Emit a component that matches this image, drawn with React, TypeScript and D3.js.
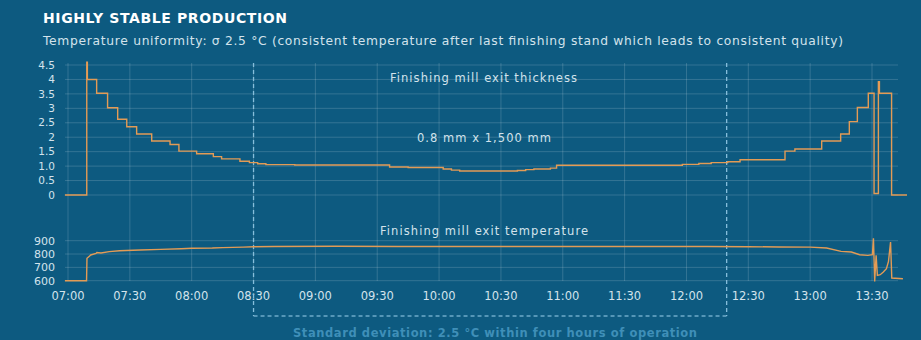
import React from "react";
import * as d3 from "d3";

// minutes after 07:00
const xTickMinutes = [0, 30, 60, 90, 120, 150, 180, 210, 240, 270, 300, 330, 360, 390];
const xTickLabels = ["07:00", "07:30", "08:00", "08:30", "09:00", "09:30", "10:00", "10:30", "11:00", "11:30", "12:00", "12:30", "13:00", "13:30"];
const thickTicks = [0, 0.5, 1, 1.5, 2, 2.5, 3, 3.5, 4, 4.5];
const thickTickLabels = ["0", "0.5", "1.0", "1.5", "2", "2.5", "3", "3.5", "4", "4.5"];
const tempTicks = [600, 700, 800, 900];
const tempTickLabels = ["600", "700", "800", "900"];

// thickness (mm), step-after
const thickMinutes = [-1.5, 9.1, 9.4, 13.9, 19.2, 24.1, 28.5, 33.3, 40.6, 49.5, 53.8, 62.4, 70.5, 74.5, 83.4, 88, 92, 96, 110, 156, 165, 182, 186, 190, 218, 222, 226, 234, 237, 298, 306, 312, 320, 326, 347.8, 352.6, 365.6, 374.8, 379, 382.9, 388.2, 391, 393.1, 393.6, 399.5, 407];
const thickValues = [0, 4.6, 4.0, 3.52, 3.02, 2.62, 2.36, 2.11, 1.87, 1.75, 1.52, 1.43, 1.33, 1.25, 1.17, 1.12, 1.08, 1.05, 1.04, 0.97, 0.95, 0.9, 0.86, 0.83, 0.85, 0.88, 0.9, 0.93, 1.03, 1.06, 1.09, 1.12, 1.15, 1.22, 1.52, 1.59, 1.87, 2.11, 2.54, 3.03, 3.52, 0.05, 3.92, 3.52, 0, 0];

// temperature (°C)
const tempMinutes = [-1.5, 9.0, 9.2, 10.5, 11, 13.6, 14, 16, 20, 25, 35, 45, 55, 60, 70, 75, 85, 90, 100, 130, 160, 200, 240, 280, 310, 330, 345, 360, 368, 375, 380, 384, 388, 390.2, 390.7, 391.3, 392, 392.6, 394, 395.5, 397, 398, 399, 399.6, 405];
const tempValues = [600, 600, 768, 785, 793, 805, 812, 808, 818, 825, 830, 835, 840, 843, 845, 848, 852, 855, 857, 858, 857, 856, 857, 857, 856, 855, 853, 852, 845, 820, 815, 795, 790, 795, 918, 595, 790, 640, 645, 665, 690, 745, 890, 620, 615];

const stdStart = 90;
const stdEnd = 319.5;

const FONT = "'DejaVu Sans', sans-serif";
const BG = "#0d5a80";
const GRID = "rgba(255,255,255,0.16)";
const LABEL = "#d3e3ec";
const LINE = "#e39b55";
const DASH = "#86bedb";

export default function App() {
  const x = d3.scaleLinear().domain([0, 390]).range([68, 872]);
  const yT = d3.scaleLinear().domain([0, 4.5]).range([195, 65]);
  const yP = d3.scaleLinear().domain([600, 900]).range([280.7, 240.7]);
  const left = 65;
  const right = 898;

  const thickData = thickMinutes.map((m, i) => [m, thickValues[i]] as [number, number]);
  const tempData = tempMinutes.map((m, i) => [m, tempValues[i]] as [number, number]);

  const thickLine = d3.line<[number, number]>().x(d => x(d[0])).y(d => yT(d[1])).curve(d3.curveStepAfter);
  const tempLine = d3.line<[number, number]>().x(d => x(d[0])).y(d => yP(d[1]));

  const xs = x(stdStart);
  const xe = x(stdEnd);

  return (
    <svg width={921} height={340} style={{ position: "absolute", left: 0, top: 0 }} fontFamily={FONT}>
      <rect width={921} height={340} fill={BG} />
      <text x={43} y={23} fill="#ffffff" fontSize={14} fontWeight="bold" textLength={244} lengthAdjust="spacing">HIGHLY STABLE PRODUCTION</text>
      <text x={43} y={45} fill={LABEL} fontSize={12.3} textLength={800} lengthAdjust="spacing">Temperature uniformity: σ 2.5 °C (consistent temperature after last finishing stand which leads to consistent quality)</text>

      {/* vertical grid */}
      {xTickMinutes.map((m, i) => (
        <line key={"vg" + i} x1={x(m)} x2={x(m)} y1={63} y2={281} stroke={GRID} strokeWidth={1} />
      ))}
      {/* horizontal grid */}
      {thickTicks.map((t, i) => (
        <line key={"hg" + i} x1={left} x2={right} y1={yT(t)} y2={yT(t)} stroke={GRID} strokeWidth={1} />
      ))}
      {tempTicks.map((t, i) => (
        <line key={"hp" + i} x1={left} x2={right} y1={yP(t)} y2={yP(t)} stroke={GRID} strokeWidth={1} />
      ))}

      {/* y labels */}
      {thickTicks.map((t, i) => (
        <text key={"yl" + i} x={55} y={yT(t) + 3.7} textAnchor="end" fill={LABEL} fontSize={10.5}>{thickTickLabels[i]}</text>
      ))}
      {tempTicks.map((t, i) => (
        <text key={"pl" + i} x={55} y={yP(t) + 4} textAnchor="end" fill={LABEL} fontSize={11}>{tempTickLabels[i]}</text>
      ))}
      {/* x labels */}
      {xTickMinutes.map((m, i) => (
        <text key={"xl" + i} x={x(m)} y={300} textAnchor="middle" fill={LABEL} fontSize={11.5}>{xTickLabels[i]}</text>
      ))}

      {/* dashed bracket */}
      <line x1={xs} x2={xs} y1={63} y2={316} stroke={DASH} strokeWidth={1.3} strokeDasharray="4,3" />
      <line x1={xe} x2={xe} y1={63} y2={316} stroke={DASH} strokeWidth={1.3} strokeDasharray="4,3" />
      <line x1={xs} x2={xe} y1={316} y2={316} stroke={DASH} strokeWidth={1.3} strokeDasharray="4,3" opacity={0.8} />

      {/* series */}
      <path d={thickLine(thickData) || ""} fill="none" stroke={LINE} strokeWidth={1.4} />
      <path d={tempLine(tempData) || ""} fill="none" stroke={LINE} strokeWidth={1.4} />

      {/* annotations */}
      <text x={390} y={82} fill={LABEL} fontSize={11.5} textLength={187} lengthAdjust="spacing">Finishing mill exit thickness</text>
      <text x={417} y={142} fill={LABEL} fontSize={11.5} textLength={134} lengthAdjust="spacing">0.8 mm x 1,500 mm</text>
      <text x={380} y={235} fill={LABEL} fontSize={11.5} textLength={208} lengthAdjust="spacing">Finishing mill exit temperature</text>
      <text x={293} y={337} fill="#3f8fb8" fontSize={11.5} fontWeight="bold" textLength={404} lengthAdjust="spacing">Standard deviation: 2.5 °C within four hours of operation</text>
    </svg>
  );
}
